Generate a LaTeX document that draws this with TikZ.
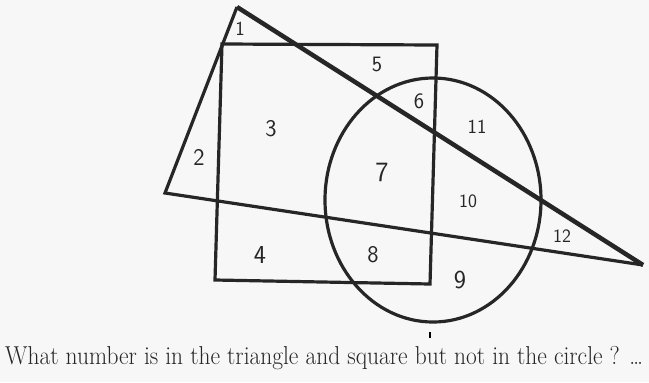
\documentclass[tikz,border=0pt]{standalone}
\tikzset{
  outline/.style={line width=3.2bp, line join=miter, draw=black!85},
  region/.style={font=\sffamily\fontsize{#1}{#1}\selectfont, text=black!85},
  question/.style={font=\rmfamily\fontsize{26}{28}\selectfont, anchor=base west, inner sep=0pt, text=black!85}
}
\begin{document}
\begin{tikzpicture}[x=1bp, y=-1bp]
  % page
  \useasboundingbox[fill=gray!6] (0,0) rectangle (649,382);

  % circle
  \draw[outline] (433,200) ellipse [x radius=108bp, y radius=122bp];
  % square
  \draw[outline] (222,44) -- (437,45) -- (430,284) -- (215,280) -- cycle;
  % triangle
  \draw[outline] (643,265) -- (165,193) -- (237,7);
  \draw[outline, line width=4.5bp] (237,7) -- (643,265);

  % region numbers
  \foreach \n/\x/\y/\s in {1/240/29/20, 2/199/157/24, 3/271/129/24, 4/260/255/26, 5/377/64/22,
      6/419/101/22, 7/382/172/28, 8/373/255/24, 9/460/280/26, 10/468/201/19, 11/477/127/20, 12/562/236/19}
    \node[region=\s] (r\n) at (\x,\y) {\n};

  % stray mark
  \draw[line width=1.5bp] (430,332) -- (430,338);

  \node[question] (q) at (5,364) {\scalebox{0.905}[1]{What number is in the triangle and square but not in the circle ? \dots}};
\end{tikzpicture}
\end{document}
